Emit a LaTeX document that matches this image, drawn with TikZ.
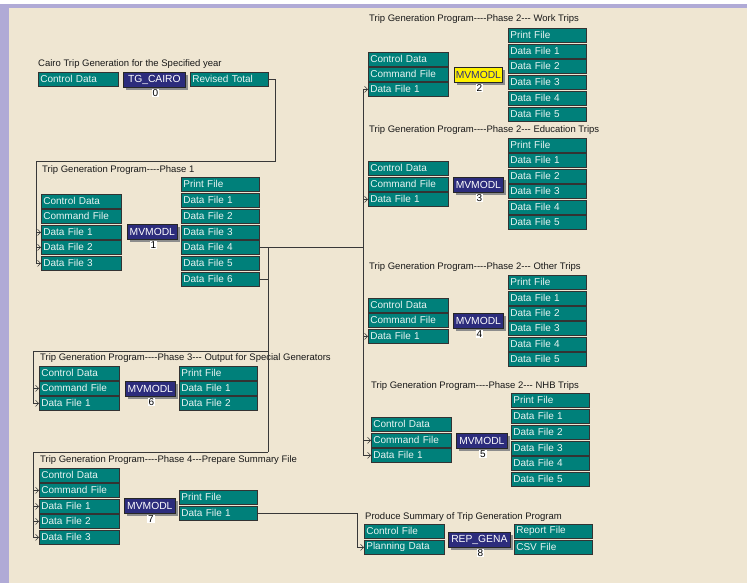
\documentclass[tikz,border=0pt]{standalone}
\usepackage{fontspec}
\setmainfont{Liberation Sans}[Ligatures=TeXOff]
\usetikzlibrary{arrows.meta,shadows}

\definecolor{paper}{HTML}{EFE6D2}
\definecolor{frame}{HTML}{B0AAD6}
\definecolor{tealbox}{HTML}{00807A}
\definecolor{navybox}{HTML}{2C2C7C}
\definecolor{hilite}{HTML}{FFF200}
\definecolor{boxtext}{HTML}{E8F4F2}

\tikzset{
  lbl/.style={font=\fontsize{10}{10}\selectfont},
  ttl/.style={font=\fontsize{9.5}{10}\selectfont, anchor=base west, inner sep=0pt, text=black!90},
  filebox/.style={lbl, draw=black!80, line width=0.7pt, fill=tealbox, text=boxtext,
    anchor=north west, align=left, minimum height=14pt, inner xsep=2pt, inner ysep=0pt},
  inbox/.style={filebox, text width=76pt},
  outbox/.style={filebox, text width=74pt},
  proc/.style={font=\fontsize{10.3}{10}\selectfont, draw=black!85, line width=0.7pt,
    fill=navybox, text=white, anchor=north west, minimum height=15pt, minimum width=#1,
    inner sep=1pt, general shadow={shadow xshift=3pt, shadow yshift=-3pt, fill=black!45}},
  hot/.style={fill=hilite, text=navybox},
  numlbl/.style={font=\fontsize{10}{10}\selectfont, fill=white, text=black,
    inner xsep=1pt, inner ysep=0.6pt, anchor=north, xshift=1pt, yshift=-1pt},
  wire/.style={draw=black!78, line width=0.7pt},
  into/.style={-{Straight Barb[length=3pt,width=6pt,line width=0.6pt]}},
}

\begin{document}
\begin{tikzpicture}[x=1pt,y=-1pt]
% window background and frame
\fill[paper] (0,0) rectangle (747,583);
\fill[white] (0,0) rectangle (747,4);
\fill[frame] (0,4) rectangle (747,8);
\fill[frame] (0,4) rectangle (9,583);
\useasboundingbox (0,0) rectangle (747,583);

% ---- step 0: Cairo trip generation
\node[ttl] (t0) at (38,67) {Cairo Trip Generation for the Specified year};
\node[inbox] (c0i1) at (38,72) {Control Data};
\node[proc=62] (m0) at (123,72) {TG\_CAIRO};
\node[numlbl] (n0) at (m0.south) {0};
\node[outbox] (c0o1) at (190,72) {Revised Total};

% ---- step 1: phase 1
\node[ttl] (t1) at (42,172) {Trip Generation Program----Phase 1};
\foreach \k/\ty/\t in {1/194/Control Data, 2/209/Command File, 3/225/Data File 1,
    4/240/Data File 2, 5/256/Data File 3}
  \node[inbox] (p1i\k) at (41,\ty) {\t};
\node[proc=50] (m1) at (127,224) {MVMODL};
\node[numlbl] (n1) at (m1.south) {1};
\foreach \k/\ty/\t in {1/177/Print File, 2/193/Data File 1, 3/209/Data File 2,
    4/225/Data File 3, 5/240/Data File 4, 6/256/Data File 5, 7/272/Data File 6}
  \node[outbox] (p1o\k) at (181,\ty) {\t};

% ---- step 2: phase 2, work trips
\node[ttl] (t2) at (369,22) {Trip Generation Program----Phase 2--- Work Trips};
\foreach \k/\ty/\t in {1/52/Control Data, 2/67/Command File, 3/82/Data File 1}
  \node[inbox] (wi\k) at (368,\ty) {\t};
\node[proc=48, hot] (m2) at (454,67) {MVMODL};
\node[numlbl] (n2) at (m2.south) {2};
\foreach \k/\ty/\t in {1/28/Print File, 2/44/Data File 1, 3/59/Data File 2,
    4/75/Data File 3, 5/91/Data File 4, 6/107/Data File 5}
  \node[outbox] (wo\k) at (508,\ty) {\t};

% ---- step 3: phase 2, education trips
\node[ttl] (t3) at (369,133) {Trip Generation Program----Phase 2--- Education Trips};
\foreach \k/\ty/\t in {1/161/Control Data, 2/177/Command File, 3/192/Data File 1}
  \node[inbox] (ei\k) at (368,\ty) {\t};
\node[proc=50] (m3) at (453,177) {MVMODL};
\node[numlbl] (n3) at (m3.south) {3};
\foreach \k/\ty/\t in {1/138/Print File, 2/153/Data File 1, 3/169/Data File 2,
    4/184/Data File 3, 5/200/Data File 4, 6/215/Data File 5}
  \node[outbox] (eo\k) at (508,\ty) {\t};

% ---- step 4: phase 2, other trips
\node[ttl] (t4) at (369,269) {Trip Generation Program----Phase 2--- Other Trips};
\foreach \k/\ty/\t in {1/298/Control Data, 2/313/Command File, 3/329/Data File 1}
  \node[inbox] (oi\k) at (368,\ty) {\t};
\node[proc=50] (m4) at (453,313) {MVMODL};
\node[numlbl] (n4) at (m4.south) {4};
\foreach \k/\ty/\t in {1/275/Print File, 2/291/Data File 1, 3/306/Data File 2,
    4/321/Data File 3, 5/337/Data File 4, 6/352/Data File 5}
  \node[outbox] (oo\k) at (508,\ty) {\t};

% ---- step 5: phase 2, NHB trips
\node[ttl] (t5) at (371,388) {Trip Generation Program----Phase 2--- NHB Trips};
\foreach \k/\ty/\t in {1/417/Control Data, 2/433/Command File, 3/448/Data File 1}
  \node[inbox] (ni\k) at (371,\ty) {\t};
\node[proc=51] (m5) at (456,433) {MVMODL};
\node[numlbl] (n5) at (m5.south) {5};
\foreach \k/\ty/\t in {1/393/Print File, 2/409/Data File 1, 3/425/Data File 2,
    4/441/Data File 3, 5/456/Data File 4, 6/472/Data File 5}
  \node[outbox] (no\k) at (511,\ty) {\t};

% ---- step 6: phase 3
\node[ttl] (t6) at (40,360) {Trip Generation Program----Phase 3--- Output for Special Generators};
\foreach \k/\ty/\t in {1/366/Control Data, 2/381/Command File, 3/396/Data File 1}
  \node[inbox] (p3i\k) at (39,\ty) {\t};
\node[proc=50] (m6) at (125,381) {MVMODL};
\node[numlbl] (n6) at (m6.south) {6};
\foreach \k/\ty/\t in {1/366/Print File, 2/381/Data File 1, 3/396/Data File 2}
  \node[outbox] (p3o\k) at (179,\ty) {\t};

% ---- step 7: phase 4
\node[ttl] (t7) at (40,462) {Trip Generation Program----Phase 4---Prepare Summary File};
\foreach \k/\ty/\t in {1/468/Control Data, 2/483/Command File, 3/499/Data File 1,
    4/514/Data File 2, 5/530/Data File 3}
  \node[inbox] (p4i\k) at (39,\ty) {\t};
\node[proc=51] (m7) at (124,498) {MVMODL};
\node[numlbl] (n7) at (m7.south) {7};
\foreach \k/\ty/\t in {1/490/Print File, 2/506/Data File 1}
  \node[outbox] (p4o\k) at (179,\ty) {\t};

% ---- step 8: summary report
\node[ttl] (t8) at (365,519) {Produce Summary of Trip Generation Program};
\foreach \k/\ty/\t in {1/524/Control File, 2/540/Planning Data}
  \node[inbox] (si\k) at (364,\ty) {\t};
\node[proc=62] (m8) at (448,532) {REP\_GENA};
\node[numlbl] (n8) at (m8.south) {8};
\foreach \k/\ty/\t in {1/524/Report File, 2/540/CSV File}
  \node[outbox] (so\k) at (514,\ty) {\t};

% ---- connectors
% revised totals into phase 1
\coordinate (j0) at (36,161);
\draw[wire] (c0o1.east) -- ++(7,0) |- (j0) -- (j0 |- p1i5.west);
\foreach \k in {3,4,5}
  \draw[wire,into] (j0 |- p1i\k.west) -- (p1i\k.west);

% phase 1 results to the phase 2 bus and to phases 3 and 4
\coordinate (bus) at (363,0);
\coordinate (j1) at (268,0);
\coordinate (r3) at (268,351);
\coordinate (r4) at (268,452);
\coordinate (l3) at (33,351);
\coordinate (l4) at (33,452);
\draw[wire] (p1o5.east) -- (bus |- p1o5.east);
\draw[wire] (p1o7.east) -- (j1 |- p1o7.east);
\draw[wire] (j1 |- p1o5.east) -- (r4);

\draw[wire] (bus |- wi3.west) -- (bus |- ni3.west);
\foreach \b in {wi3, ei3, oi3, ni2, ni3}
  \draw[wire,into] (bus |- \b.west) -- (\b.west);

\draw[wire] (r3) -- (l3) -- (l3 |- p3i3.west);
\foreach \k in {2,3}
  \draw[wire,into] (l3 |- p3i\k.west) -- (p3i\k.west);

\draw[wire] (r4) -- (l4) -- (l4 |- p4i5.west);
\foreach \k in {2,3,4,5}
  \draw[wire,into] (l4 |- p4i\k.west) -- (p4i\k.west);

% phase 4 summary file into the report program
\coordinate (j8) at (357,0);
\draw[wire,into] (p4o2.east) -- (j8 |- p4o2.east) |- (si2.west);
\end{tikzpicture}
\end{document}
